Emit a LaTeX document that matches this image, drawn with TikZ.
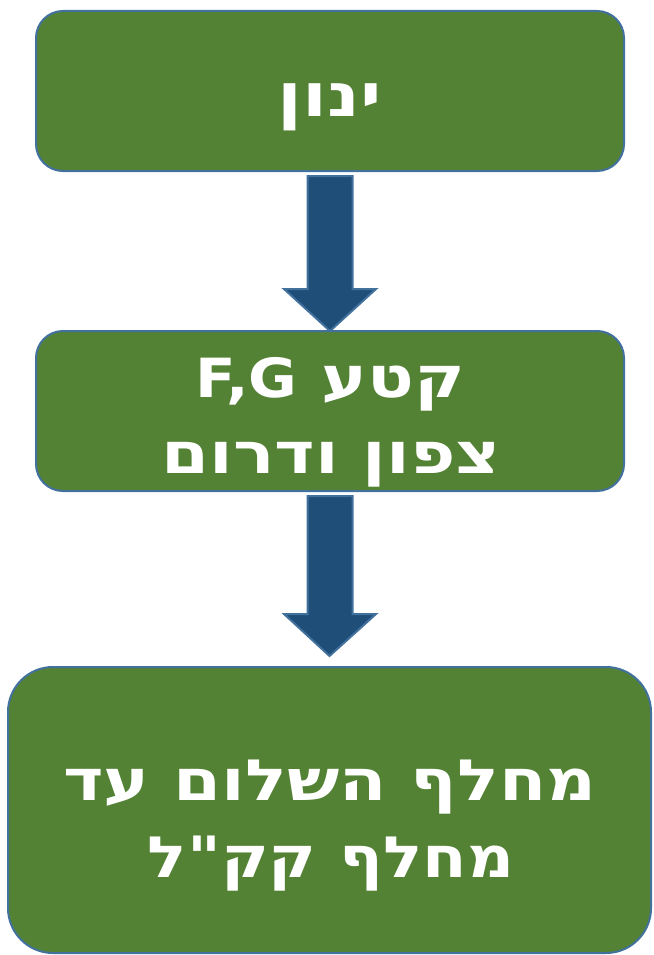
\documentclass[tikz,border=0pt]{standalone}
\usepackage{fontspec}
\usetikzlibrary{calc}
\TeXXeTstate=1
\newfontfamily\hebfont[Script=Hebrew,FakeStretch=1.21]{DejaVu Sans}
\newfontfamily\hebnarrow[Script=Hebrew,FakeStretch=1.14]{DejaVu Sans}
\newfontfamily\latfont[FakeStretch=1.1]{DejaVu Sans}
\definecolor{boxgreen}{HTML}{548235}
\definecolor{boxline}{HTML}{41719C}
\definecolor{arrowfill}{HTML}{1F4E79}
\tikzset{
  stepbox/.style={draw=boxline, line width=2pt, fill=boxgreen, rounded corners=27pt,
    inner sep=0pt},
  steptext/.style={text=white, anchor=base, inner sep=0pt,
    font=\hebfont\bfseries\fontsize{57}{77}\selectfont},
  blockarrow/.style={draw=boxline, line width=2pt, fill=arrowfill, line join=miter}
}
\newcommand\myblockarrow[2]{%
  \draw[blockarrow] let \p1=(#1), \p2=(#2) in
    (\x1-22.5pt,\y1) -- (\x1+22.5pt,\y1) -- (\x1+22.5pt,\y2+42pt) -- (\x1+46pt,\y2+42pt)
    -- (\x2,\y2) -- (\x1-46pt,\y2+42pt) -- (\x1-22.5pt,\y2+42pt) -- cycle;}
\begin{document}
\begin{tikzpicture}[x=1pt,y=-1pt]
  \useasboundingbox[fill=white] (0,0) rectangle (653,955);
  \node[stepbox, minimum width=588pt, minimum height=160pt] (b1) at (330,91) {};
  \node[stepbox, minimum width=588pt, minimum height=160pt] (b2) at (330,411) {};
  \node[stepbox, rounded corners=45pt, minimum width=643pt, minimum height=286pt] (b3) at (329.5,810) {};
  \node[steptext, font=\hebfont\bfseries\fontsize{60}{77}\selectfont] (t1) at (330,117) {\beginR ינון\endR};
  \node[steptext] (t2a) at (330,397)
    {\beginR קטע \beginL{\latfont\bfseries\fontsize{54}{77}\selectfont F,G}\endL\endR};
  \node[steptext] (t2b) at (331,473) {\beginR צפון ודרום\endR};
  \node[steptext] (t3a) at (330,800) {\beginR מחלף השלום עד\endR};
  \node[steptext, font=\hebnarrow\bfseries\fontsize{57}{77}\selectfont] (t3b) at (331,877) {\beginR מחלף קק"ל\endR};
  \coordinate (a1s) at ($(b1.south)+(0,4)$);
  \coordinate (a1e) at ($(b2.north)+(0,1)$);
  \coordinate (a2s) at ($(b2.south)+(0,4)$);
  \coordinate (a2e) at ($(b3.north)+(0,-10)$);
  \myblockarrow{a1s}{a1e}
  \myblockarrow{a2s}{a2e}
\end{tikzpicture}
\end{document}
